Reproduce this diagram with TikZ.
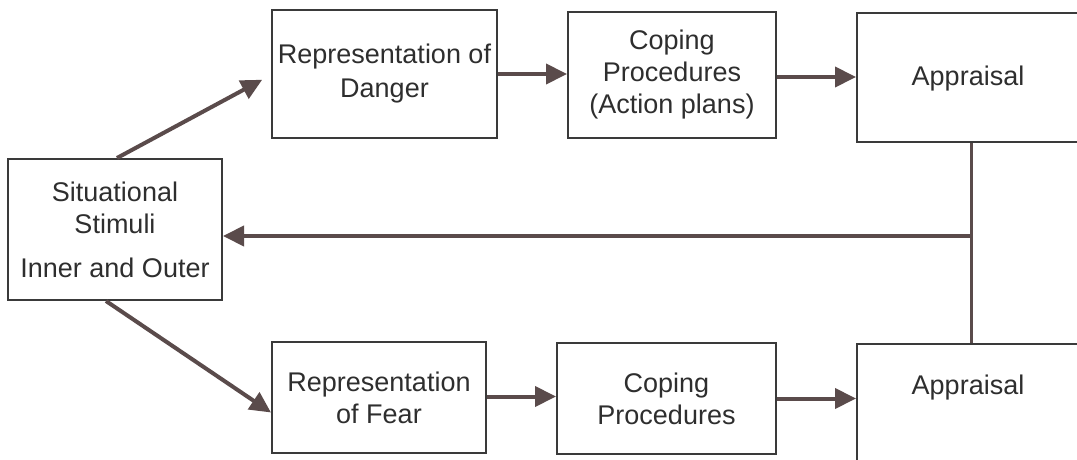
\documentclass[tikz,border=0pt]{standalone}
\usepackage{fontspec}
\setmainfont{Liberation Sans}
\usetikzlibrary{arrows.meta}
\definecolor{boxline}{HTML}{3A3A3A}
\definecolor{arrowc}{HTML}{5A4B4B}
\definecolor{txt}{HTML}{2E2E2E}
\begin{document}
\begin{tikzpicture}[x=1pt,y=-1pt,
  box/.style={draw=boxline, line width=2pt, rectangle, inner sep=0pt,
    align=center, text=txt, font=\fontsize{27}{32}\selectfont},
  lbl/.style={text=txt, font=\fontsize{27}{32}\selectfont, inner sep=0pt},
  arr/.style={draw=arrowc, line width=4pt,
    -{Triangle[length=21pt,width=20pt]}},
  link/.style={draw=arrowc, line width=3pt}]
\useasboundingbox (0,0) rectangle (1077,460);
\clip (0,0) rectangle (1077,460);

% boxes
\node[box, minimum width=214, minimum height=141] (sit) at (115,229.5)
  {Situational\\Stimuli\\[12pt]Inner and Outer};
\node[box, minimum width=225, minimum height=128] (dang) at (384.5,74)
  {Representation of\\[2pt]Danger};
\node[box, minimum width=208, minimum height=126] (copt) at (672,75)
  {Coping\\Procedures\\(Action plans)};
\node[box, minimum width=250, minimum height=129, anchor=north west] (appt) at (856,12) {};
\node[lbl] (appttext) at (968,79) {Appraisal};

\node[box, minimum width=214, minimum height=111] (fear) at (379,397.5)
  {Representation\\of Fear};
\node[box, minimum width=219, minimum height=111] (copb) at (666.5,398.5)
  {Coping\\Procedures};
\node[box, minimum width=250, minimum height=150, anchor=north west] (appb) at (856,343) {};
\node[lbl] (appbtext) at (968,388) {Appraisal};

% connectors
\coordinate (fb) at (971,236);
\draw[arr, shorten >=10pt] ([xshift=2pt]sit.north) -- ([yshift=-1pt]dang.west);
\draw[arr] ([xshift=-9pt]sit.south) -- ([yshift=-15pt]fear.west);
\draw[arr] (dang.east) -- (copt.west |- dang.east);
\draw[arr] ([yshift=-2pt]copt.east) -- ([yshift=-2pt]copt.east -| appt.west);
\draw[arr] ([yshift=1pt]fear.east) -- ([yshift=1pt]fear.east -| copb.west);
\draw[arr] (copb.east) -- (copb.east -| appb.west);
\draw[link] (appt.south -| fb) -- (appb.north -| fb);
\draw[arr] (fb) -- (sit.east |- fb);
\end{tikzpicture}
\end{document}
